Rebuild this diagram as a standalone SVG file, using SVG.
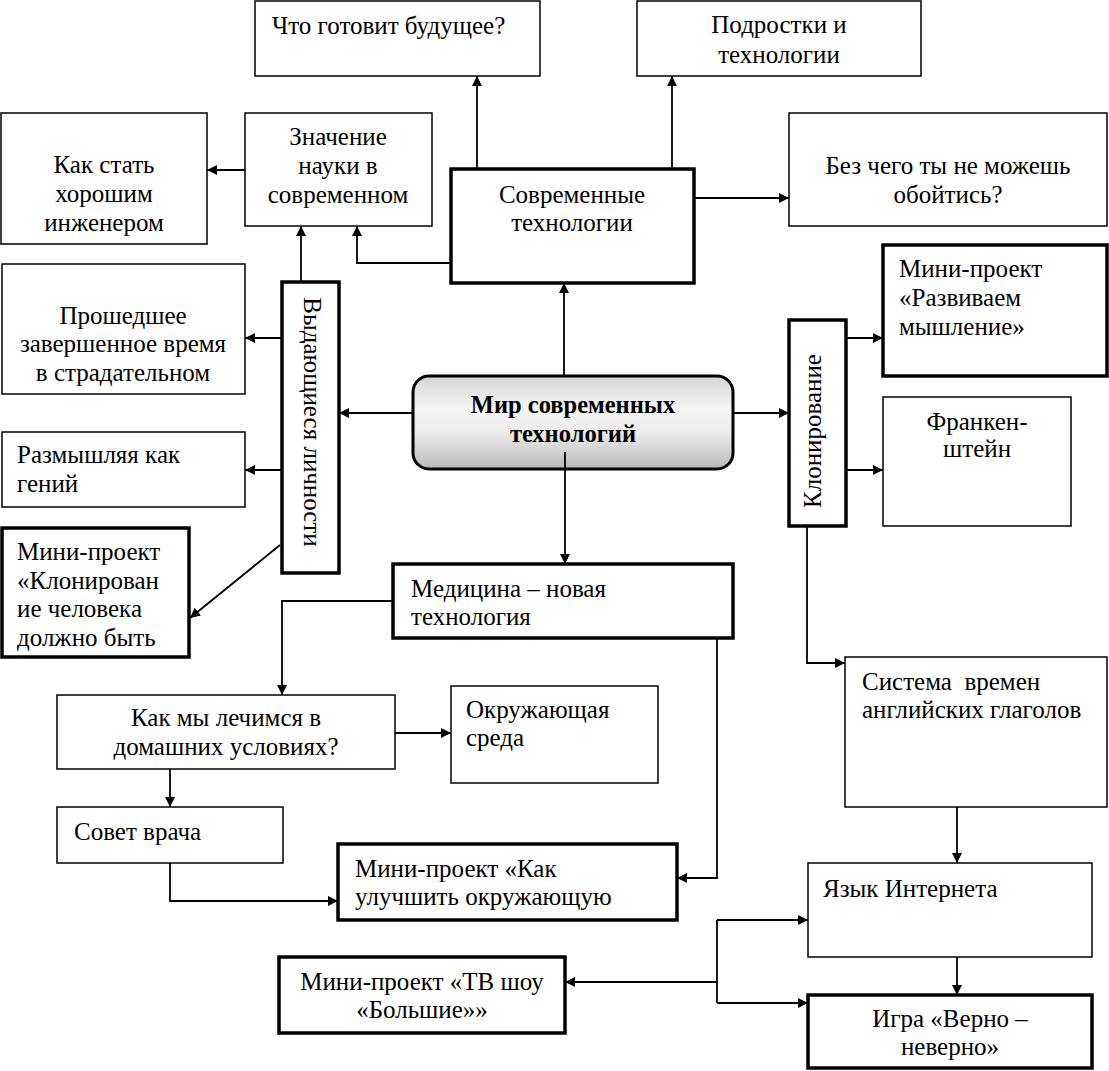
<svg xmlns="http://www.w3.org/2000/svg" width="1109" height="1071" viewBox="0 0 1109 1071">
<style>
.b{fill:#fff;stroke:#000;stroke-width:1.5}
.t{fill:#fff;stroke:#000;stroke-width:3.5}
text{font-family:"Liberation Serif","Times New Roman",serif;font-size:25px;fill:#000}
.c{text-anchor:middle}
.bold{font-weight:bold;font-size:24.5px}
.ln{fill:none;stroke:#000;stroke-width:1.8;marker-end:url(#ah)}
.pl{fill:none;stroke:#000;stroke-width:1.8}
</style>
<defs>
<marker id="ah" viewBox="0 0 10 10" refX="10" refY="5" markerWidth="11" markerHeight="10" markerUnits="userSpaceOnUse" orient="auto">
<path d="M0,0 L10,5 L0,10 z" fill="#000"/>
</marker>
<linearGradient id="g" x1="0" y1="0" x2="0" y2="1">
<stop offset="0" stop-color="#d4d4d4"/>
<stop offset="0.35" stop-color="#f5f5f5"/>
<stop offset="0.6" stop-color="#ececec"/>
<stop offset="1" stop-color="#b9b9b9"/>
</linearGradient>
</defs>
<rect width="1109" height="1071" fill="#fff"/>

<g id="n-future"><rect class="b" x="255" y="1" width="285" height="75"/><text x="272" y="34">Что готовит будущее?</text></g>
<g id="n-teens"><rect class="b" x="637" y="1" width="284" height="75"/><text class="c" x="779" y="33">Подростки и</text><text class="c" x="779" y="63">технологии</text></g>
<g id="n-engineer"><rect class="b" x="1" y="113" width="206" height="131"/><text class="c" x="104" y="173">Как стать</text><text class="c" x="104" y="202">хорошим</text><text class="c" x="104" y="231">инженером</text></g>
<g id="n-science"><rect class="b" x="245" y="113" width="187" height="113"/><text class="c" x="338" y="145">Значение</text><text class="c" x="338" y="174">науки в</text><text class="c" x="338" y="203">современном</text></g>
<g id="n-modern"><rect class="t" x="451" y="169" width="243" height="114"/><text class="c" x="572" y="203">Современные</text><text class="c" x="572" y="231">технологии</text></g>
<g id="n-without"><rect class="b" x="789" y="113" width="318" height="113"/><text class="c" x="948" y="174">Без чего ты не можешь</text><text class="c" x="948" y="203">обойтись?</text></g>
<g id="n-thinking"><rect class="t" x="883" y="245" width="224" height="131"/><text x="899" y="277">Мини-проект</text><text x="899" y="306">«Развиваем</text><text x="899" y="335">мышление»</text></g>
<g id="n-past"><rect class="b" x="2" y="264" width="243" height="130"/><text class="c" x="123" y="324">Прошедшее</text><text class="c" x="123" y="352">завершенное время</text><text class="c" x="123" y="381">в страдательном</text></g>
<g id="n-genius"><rect class="b" x="2" y="432" width="243" height="75"/><text x="17" y="463">Размышляя как</text><text x="17" y="492">гений</text></g>
<g id="n-people"><rect class="t" x="282" y="282" width="57" height="291"/><text class="c" transform="translate(304,422) rotate(90)">Выдающиеся личности</text></g>
<g id="n-cloning-human"><rect class="t" x="2" y="528" width="187" height="129"/><text x="17" y="560">Мини-проект</text><text x="17" y="589">«Клонирован</text><text x="17" y="617">ие человека</text><text x="17" y="646">должно быть</text></g>
<g id="n-center"><rect x="413" y="376" width="320" height="93" rx="16" ry="16" fill="url(#g)" stroke="#000" stroke-width="3"/><text class="c bold" x="573" y="413">Мир современных</text><text class="c bold" x="573" y="442">технологий</text></g>
<g id="n-cloning"><rect class="t" x="789" y="320" width="57" height="206"/><text class="c" transform="translate(821,431) rotate(-90)">Клонирование</text></g>
<g id="n-frank"><rect class="b" x="883" y="397" width="188" height="129"/><text class="c" x="977" y="430">Франкен-</text><text class="c" x="977" y="457">штейн</text></g>
<g id="n-medicine"><rect class="t" x="393" y="564" width="340" height="74"/><text x="411" y="597">Медицина – новая</text><text x="411" y="625">технология</text></g>
<g id="n-home"><rect class="b" x="57" y="695" width="338" height="74"/><text class="c" x="226" y="726">Как мы лечимся в</text><text class="c" x="226" y="755">домашних условиях?</text></g>
<g id="n-env"><rect class="b" x="451" y="686" width="207" height="97"/><text x="466" y="718">Окружающая</text><text x="466" y="746">среда</text></g>
<g id="n-doctor"><rect class="b" x="57" y="807" width="226" height="56"/><text x="74" y="840">Совет врача</text></g>
<g id="n-improve"><rect class="t" x="338" y="844" width="339" height="76"/><text x="355" y="877">Мини-проект «Как</text><text x="355" y="905">улучшить окружающую</text></g>
<g id="n-tv"><rect class="t" x="279" y="957" width="286" height="76"/><text class="c" x="422" y="990">Мини-проект «ТВ шоу</text><text class="c" x="422" y="1018">«Большие»»</text></g>
<g id="n-tenses"><rect class="b" x="845" y="657" width="262" height="150"/><text x="862" y="690" xml:space="preserve">Система  времен</text><text x="862" y="718">английских глаголов</text></g>
<g id="n-internet"><rect class="b" x="808" y="863" width="284" height="94"/><text x="823" y="897">Язык Интернета</text></g>
<g id="n-game"><rect class="t" x="808" y="995" width="284" height="73"/><text class="c" x="950" y="1027">Игра «Верно –</text><text class="c" x="950" y="1055">неверно»</text></g>

<g id="connectors">
<path class="ln" d="M564,376 V283"/>
<path class="ln" d="M413,413 H339"/>
<path class="ln" d="M733,413 H789"/>
<path class="ln" d="M565,452 V564"/>
<path class="ln" d="M477,169 V76"/>
<path class="ln" d="M672,169 V76"/>
<path class="ln" d="M694,198 H789"/>
<path class="ln" d="M451,263 H357 V226"/>
<path class="ln" d="M245,170 H207"/>
<path class="ln" d="M301,282 V226"/>
<path class="ln" d="M282,338 H245"/>
<path class="ln" d="M282,470 H245"/>
<path class="ln" d="M280,545 L190,618"/>
<path class="ln" d="M846,338 H883"/>
<path class="ln" d="M846,470 H883"/>
<path class="ln" d="M807,526 V663 H845"/>
<path class="ln" d="M393,601 H282 V695"/>
<path class="ln" d="M717,638 V878 H677"/>
<path class="ln" d="M395,733 H451"/>
<path class="ln" d="M170,769 V807"/>
<path class="ln" d="M170,863 V901 H338"/>
<path class="ln" d="M957,807 V863"/>
<path class="ln" d="M957,957 V995"/>
<path class="pl" d="M717,920 V1003"/>
<path class="ln" d="M717,920 H808"/>
<path class="ln" d="M717,1003 H808"/>
<path class="ln" d="M717,982 H565"/>
</g>
</svg>
